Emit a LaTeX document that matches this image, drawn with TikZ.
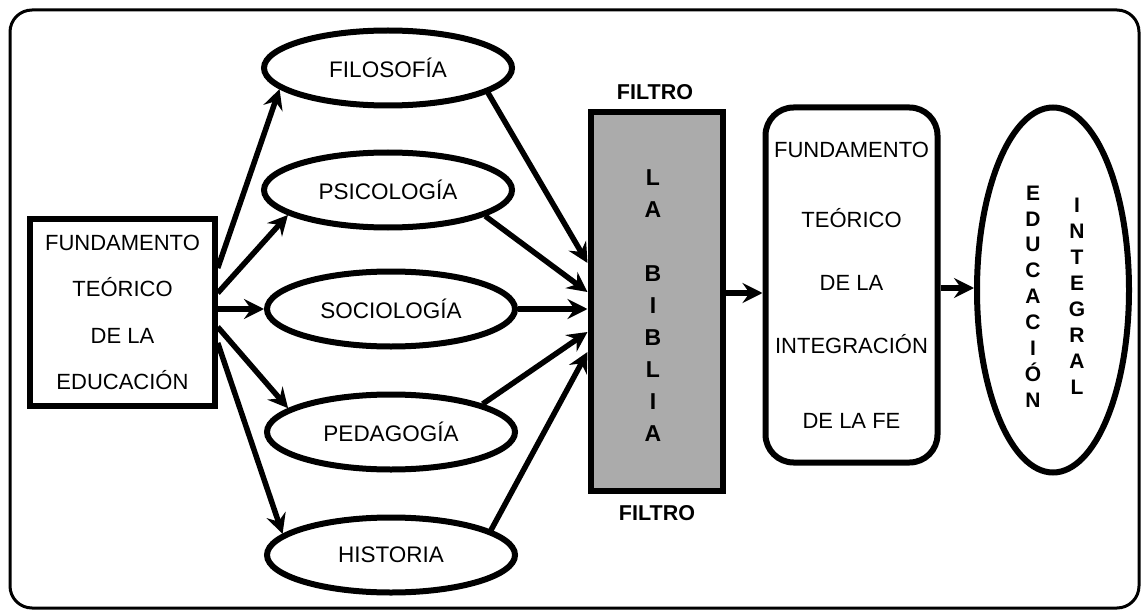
\documentclass[tikz,border=0pt]{standalone}
\usepackage{fontspec}
\setmainfont{Liberation Sans}
\usetikzlibrary{arrows.meta,shapes.geometric,calc}
\tikzset{
  conn/.style={line width=5.5pt,-{Stealth[length=20pt,width=20pt,inset=7pt]}},
  ell/.style={ellipse,draw,line width=6pt,minimum width=248pt,minimum height=75pt,inner sep=0pt,font=\fontsize{22.5}{26}\selectfont},
  boxa/.style={rectangle,draw,line width=5.5pt,align=center,inner sep=0pt},
  lbl/.style={font=\bfseries\fontsize{21.5}{25}\selectfont},
}
\begin{document}
\begin{tikzpicture}[x=1pt,y=-1pt]
\useasboundingbox (0,0) rectangle (1146,615);
\draw[line width=3pt,rounded corners=22pt] (10,10) rectangle (1139,608);

% left box
\node[boxa,minimum width=185pt,minimum height=187pt,font=\fontsize{22}{46.5}\selectfont] (fund) at (122.5,312.5)
  {FUNDAMENTO\\TEÓRICO\\DE LA\\EDUCACIÓN};

% ellipses
\node[ell] (fil) at (388,68) {FILOSOFÍA};
\node[ell] (psi) at (388,190) {PSICOLOGÍA};
\node[ell] (soc) at (391,309) {SOCIOLOGÍA};
\node[ell] (ped) at (391,432) {PEDAGOGÍA};
\node[ell] (his) at (391,555) {HISTORIA};

% filter
\node[rectangle,draw,line width=6pt,fill=black!33,minimum width=132pt,minimum height=378pt,inner sep=0pt] (filtro) at (656.5,301.5) {};
\node[align=center,inner sep=0pt,font=\bfseries\fontsize{23}{31.9}\selectfont] (biblia) at (653,305.5)
  {L\\A\\[31.9pt]B\\I\\B\\L\\I\\A};
\node[lbl] (ftop) at (655,92) {FILTRO};
\node[lbl] (fbot) at (657,513) {FILTRO};

% right box
\node[boxa,line width=6pt,rounded corners=28pt,minimum width=172pt,minimum height=355pt,font=\fontsize{22}{63}\selectfont] (integ) at (851.5,285)
  {FUNDAMENTO\\[7pt]TEÓRICO\\DE LA\\INTEGRACIÓN\\[12pt]DE LA FE};

% final ellipse
\node[ellipse,draw,line width=6pt,minimum width=152pt,minimum height=365pt,inner sep=0pt] (edint) at (1053,290) {};
\node[align=center,inner sep=0pt,font=\bfseries\fontsize{21}{25.9}\selectfont] (edu) at (1033,296.5)
  {E\\D\\U\\C\\A\\C\\I\\Ó\\N};
\node[align=center,inner sep=0pt,font=\bfseries\fontsize{21}{26}\selectfont] (int) at (1077,296)
  {I\\N\\T\\E\\G\\R\\A\\L};

% connectors from left box
\draw[conn] ([yshift=44.5pt]fund.east) -- (fil.191);
\draw[conn] ([yshift=19.5pt]fund.east) -- (psi.194);
\draw[conn] (fund.east |- soc.west) -- (soc.west);
\draw[conn] ([yshift=-14.5pt]fund.east) -- (ped.167);
\draw[conn] ([yshift=-30.5pt]fund.east) -- (his.169);

% connectors into filter
\draw[conn] (fil.346) -- ([yshift=38.5pt]filtro.west);
\draw[conn] (psi.345) -- ([yshift=9.5pt]filtro.west);
\draw[conn] (soc.east) -- (soc.east -| filtro.west);
\draw[conn] (ped.17) -- ([yshift=-30.5pt]filtro.west);
\draw[conn] (his.14) -- ([yshift=-50.5pt]filtro.west);

% to the right
\draw[conn] ([yshift=8.5pt]filtro.east) -- ([yshift=8.5pt]filtro.east -| integ.west);
\draw[conn] ([yshift=-3pt]integ.east) -- ([yshift=-3pt]integ.east -| edint.west);
\end{tikzpicture}
\end{document}
